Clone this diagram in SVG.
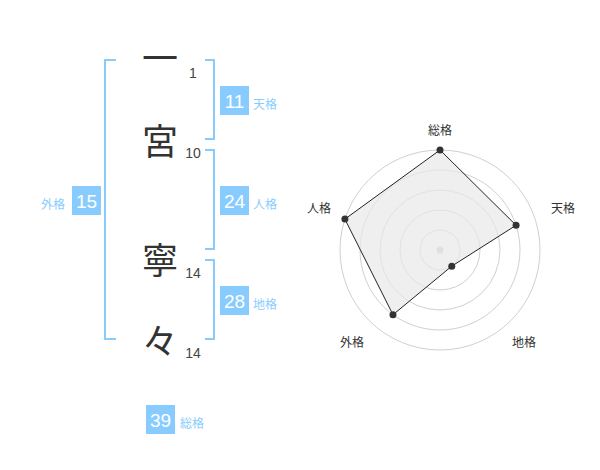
<svg xmlns="http://www.w3.org/2000/svg" width="600" height="470" viewBox="0 0 600 470">
<style>
.kanji{font-family:"Noto Sans CJK JP","Noto Sans",sans-serif;font-size:36px;fill:#333;text-anchor:middle}
.stroke{font-family:"Liberation Sans",Arial,sans-serif;font-size:14px;fill:#444;text-anchor:middle}
.br{fill:none;stroke:#88ccff;stroke-width:2}
.box{fill:#88ccff}
.num{font-family:"Liberation Sans",Arial,sans-serif;font-size:19px;fill:#fff;text-anchor:middle}
.lab{font-family:"Noto Sans CJK JP",sans-serif;font-size:12px;fill:#88ccff}
.ring{fill:none;stroke:#d0d0d0;stroke-width:1}
.rl{font-family:"Noto Sans CJK JP",sans-serif;font-size:12px;fill:#333;text-anchor:middle}
.pt{fill:#333}
</style>
<rect width="600" height="470" fill="#fff"/>
<g id="chars">
<text class="kanji" x="160" y="72">一</text>
<text class="kanji" x="160" y="155">宮</text>
<text class="kanji" x="160" y="274">寧</text>
<text class="kanji" x="160" y="355">々</text>
<text class="stroke" x="193" y="78">1</text>
<text class="stroke" x="193" y="158">10</text>
<text class="stroke" x="193" y="278">14</text>
<text class="stroke" x="193" y="358">14</text>
</g>
<g id="connectors">
<path class="br" d="M116,60 H105 V339 H116"/>
<path class="br" d="M205,60 H214 V139 H205"/>
<path class="br" d="M205,150 H214 V249 H205"/>
<path class="br" d="M205,260 H214 V339 H205"/>
</g>
<g id="tenkaku">
<rect class="box" x="220" y="86" width="29" height="29"/>
<text class="num" x="234.5" y="107.5">11</text>
<text class="lab" x="253" y="109">天格</text>
</g>
<g id="jinkaku">
<rect class="box" x="220" y="186" width="29" height="29"/>
<text class="num" x="234.5" y="207.5">24</text>
<text class="lab" x="253" y="209">人格</text>
</g>
<g id="chikaku">
<rect class="box" x="220" y="286" width="29" height="29"/>
<text class="num" x="234.5" y="307.5">28</text>
<text class="lab" x="253" y="309">地格</text>
</g>
<g id="gaikaku">
<rect class="box" x="72" y="186" width="29" height="29"/>
<text class="num" x="86.5" y="207.5">15</text>
<text class="lab" x="41" y="209">外格</text>
</g>
<g id="soukaku">
<rect class="box" x="146" y="405" width="29" height="29"/>
<text class="num" x="160.5" y="426.5">39</text>
<text class="lab" x="180" y="428">総格</text>
</g>
<g id="radar">
<circle class="ring" cx="440" cy="250" r="100"/>
<circle class="ring" cx="440" cy="250" r="80"/>
<circle class="ring" cx="440" cy="250" r="60"/>
<circle class="ring" cx="440" cy="250" r="40"/>
<circle class="ring" cx="440" cy="250" r="20"/>
<circle cx="440" cy="250" r="3.5" fill="#ccc"/>
<polygon points="440,150 516.08,225.28 451.76,266.18 392.98,314.72 344.89,219.1" fill="#e8e8e8" fill-opacity="0.7" stroke="#222" stroke-width="1"/>
<circle class="pt" cx="440" cy="150" r="3.5"/>
<circle class="pt" cx="516.08" cy="225.28" r="3.5"/>
<circle class="pt" cx="451.76" cy="266.18" r="3.5"/>
<circle class="pt" cx="392.98" cy="314.72" r="3.5"/>
<circle class="pt" cx="344.89" cy="219.1" r="3.5"/>
<text class="rl" x="440" y="135">総格</text>
<text class="rl" x="563" y="213">天格</text>
<text class="rl" x="524" y="347">地格</text>
<text class="rl" x="352" y="347">外格</text>
<text class="rl" x="319" y="213">人格</text>
</g>
</svg>
